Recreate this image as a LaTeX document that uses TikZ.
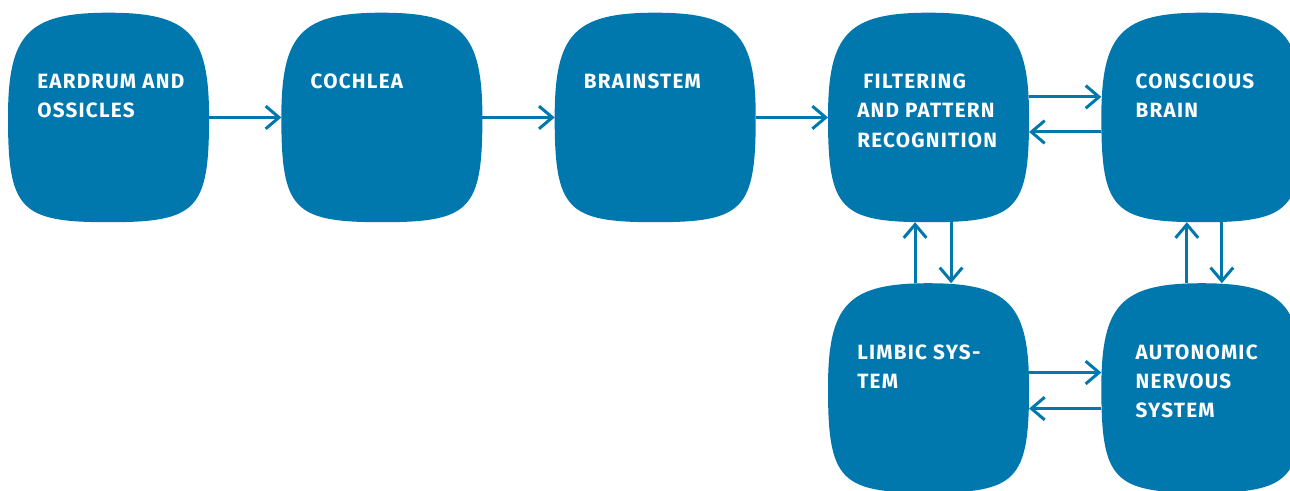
\documentclass[tikz,border=0pt]{standalone}
\usepackage{fontspec}
\setmainfont[LetterSpace=6]{Fira Sans}
\usetikzlibrary{positioning}
\usetikzlibrary{calc}
\usetikzlibrary{arrows.meta}
\usetikzlibrary{backgrounds}
\definecolor{earblue}{RGB}{0,120,174}
\tikzset{blob/.style={rectangle,minimum width=150.4pt,minimum height=156.75pt,inner sep=0pt},
  blobtext/.style={text=white,font=\bfseries\fontsize{15.5}{22}\selectfont,align=left,inner sep=0pt},
  flow/.style={earblue,line width=2.25pt,-{Straight Barb[length=10pt,width=17pt]}},}

\begin{document}
\begin{tikzpicture}
          \useasboundingbox (0,0) rectangle (967.5pt,-368.25pt);
          \node[blob] (ear) at (81.4pt,-88.1pt) {};
          \node[blob] (coch) [right = 54.2pt of ear] {};
          \node[blob] (brain) [right = 54.2pt of coch] {};
          \node[blob] (filt) [right = 54.2pt of brain] {};
          \node[blob] (consc) [right = 54.2pt of filt] {};
          \node[blob] (limb) [below = 45.75pt of filt] {};
          \node[blob] (auto) [below = 45.75pt of consc] {};

          % squircle backgrounds
          \begin{scope}[on background layer]
          \foreach \n in {ear,coch,brain,filt,consc,limb,auto}
            \fill[earblue] (\n.north)
              .. controls ($(\n.north)!0.8!(\n.north east)$) and ($(\n.east)!0.8!(\n.north east)$) .. (\n.east)
              .. controls ($(\n.east)!0.88!(\n.south east)$) and ($(\n.south)!0.88!(\n.south east)$) .. (\n.south)
              .. controls ($(\n.south)!0.88!(\n.south west)$) and ($(\n.west)!0.88!(\n.south west)$) .. (\n.west)
              .. controls ($(\n.west)!0.8!(\n.north west)$) and ($(\n.north)!0.8!(\n.north west)$) .. (\n.north) -- cycle;
          \end{scope}

          \node[blobtext] [below right = 45.75pt and 21.75pt of ear.north west] {EARDRUM AND\\OSSICLES};
          \node[blobtext] [below right = 45.75pt and 21.75pt of coch.north west] {COCHLEA};
          \node[blobtext] [below right = 45.75pt and 21.75pt of brain.north west] {BRAINSTEM};
          \node[blobtext] [below right = 45.75pt and 21.75pt of filt.north west] {\ FILTERING\\AND PATTERN\\RECOGNITION};
          \node[blobtext] [below right = 45.75pt and 25.5pt of consc.north west] {CONSCIOUS\\BRAIN};
          \node[blobtext] [below right = 45.75pt and 21.75pt of limb.north west] {LIMBIC SYS-\\TEM};
          \node[blobtext] [below right = 45.75pt and 25.5pt of auto.north west] {AUTONOMIC\\NERVOUS\\SYSTEM};

          \draw[flow] (ear) -- (coch);
          \draw[flow] (coch) -- (brain);
          \draw[flow] (brain) -- (filt);
          \draw[flow] ([yshift=15.4pt]filt.east) -- ([yshift=15.4pt]consc.west);
          \draw[flow] ([yshift=-10.9pt]consc.west) -- ([yshift=-10.9pt]filt.east);
          \draw[flow] ([xshift=-10.1pt]limb.north) -- ([xshift=-10.1pt]filt.south);
          \draw[flow] ([xshift=16.9pt]filt.south) -- ([xshift=16.9pt]limb.north);
          \draw[flow] ([xshift=-11.25pt]auto.north) -- ([xshift=-11.25pt]consc.south);
          \draw[flow] ([xshift=15pt]consc.south) -- ([xshift=15pt]auto.north);
          \draw[flow] ([yshift=11.6pt]limb.east) -- ([yshift=11.6pt]auto.west);
          \draw[flow] ([yshift=-15.4pt]auto.west) -- ([yshift=-15.4pt]limb.east);
        \end{tikzpicture}
\end{document}
